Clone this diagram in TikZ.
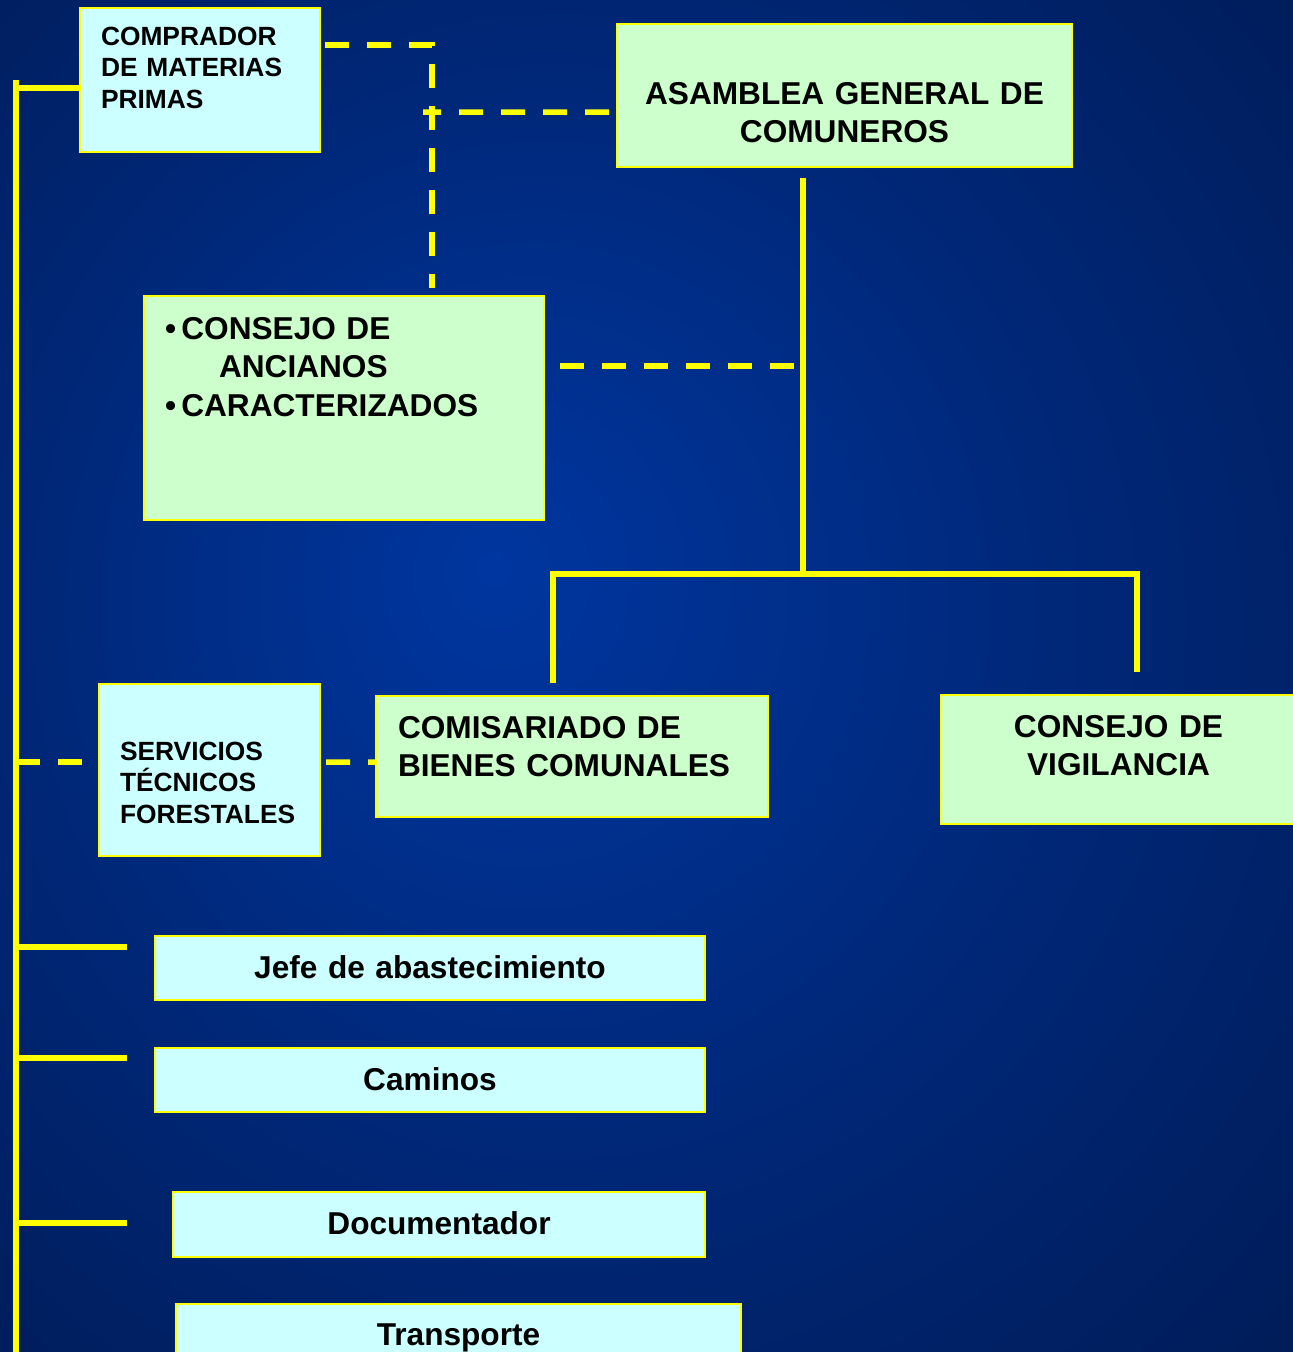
\documentclass[tikz,border=0pt]{standalone}
\usepackage{fontspec}
\setmainfont{Liberation Sans}
\usetikzlibrary{positioning}
\newlength{\pxu}\setlength{\pxu}{0.02cm}
\definecolor{bgA}{RGB}{0,54,160}
\definecolor{bgB}{RGB}{0,38,116}
\definecolor{bgC}{RGB}{0,20,66}
\definecolor{boxgreen}{RGB}{204,255,204}
\definecolor{boxcyan}{RGB}{204,255,255}
\definecolor{linkyellow}{RGB}{255,255,0}
\pgfdeclareradialshading{slidebg}{\pgfpoint{-6bp}{4bp}}{color(0bp)=(bgA); color(22bp)=(bgB); color(50bp)=(bgC)}
\tikzstyle{box}=[draw=linkyellow,line width=2\pxu,anchor=north west,inner ysep=0pt,outer sep=0pt,font=\bfseries\fontsize{18}{22}\selectfont]
\tikzstyle{greenbox}=[box,fill=boxgreen]
\tikzstyle{cyanbox}=[box,fill=boxcyan]
\tikzstyle{small}=[font=\bfseries\fontsize{15}{18.2}\selectfont]
\tikzstyle{solidlink}=[draw=linkyellow,line width=5.5\pxu]
\tikzstyle{dashlink}=[solidlink,dash pattern=on 24\pxu off 18\pxu]
\tikzset{boxdims/.style n args={4}{text width=#1\pxu,inner xsep=#2\pxu,text height=#3\pxu,text depth=#4\pxu}}
\newcommand{\newBox}[4]{\node[#3] (#1) at (#4) {#2};}
\newcommand{\newStub}[2]{\coordinate (#1) at (#2); \draw[solidlink] (#1) -- (#1 -| spineTop);}

\begin{document}
\begin{tikzpicture}[x=1\pxu,y=-1\pxu]
  \useasboundingbox (0,0) rectangle (1293,1352);
  \shade[shading=slidebg] (0,0) rectangle (1293,1352);

  % boxes
  \newBox{comprador}{COMPRADOR\\DE MATERIAS\\PRIMAS}{cyanbox,small,align=left,boxdims={198}{21}{37}{107}}{80,8}
  \newBox{asamblea}{ASAMBLEA GENERAL DE\\COMUNEROS}{greenbox,align=center,boxdims={435}{10}{80}{63}}{617,24}
  \newBox{ancianos}{•\,CONSEJO DE\\\hspace*{54\pxu}ANCIANOS\\•\,CARACTERIZADOS}{greenbox,align=left,boxdims={358}{21}{43}{181}}{144,296}
  \newBox{servicios}{SERVICIOS\\TÉCNICOS\\FORESTALES}{cyanbox,small,align=left,boxdims={179}{21}{76}{96}}{99,684}
  \newBox{comisariado}{COMISARIADO DE\\BIENES COMUNALES}{greenbox,align=left,boxdims={348}{22}{42}{79}}{376,696}
  \newBox{vigilancia}{CONSEJO DE\\VIGILANCIA}{greenbox,align=center,boxdims={335}{10}{42}{87}}{941,695}
  \newBox{jefe}{Jefe de abastecimiento}{cyanbox,align=center,boxdims={530}{10}{42}{22}}{155,936}
  \newBox{caminos}{Caminos}{cyanbox,align=center,boxdims={530}{10}{42}{22}}{155,1048}
  \newBox{documentador}{Documentador}{cyanbox,align=center,boxdims={512}{10}{42}{23}}{173,1192}
  \newBox{transporte}{Transporte}{cyanbox,align=center,boxdims={545}{10}{41}{24}}{176,1304}

  % left spine
  \coordinate (spineTop) at (16,80);
  \coordinate (spineEnd) at (16,1360);
  \draw[solidlink] (spineTop) -- (spineEnd);
  \draw[solidlink] ([yshift=-8\pxu]comprador.west) -- ++(-64,0);
  \newStub{jefeStub}{127,947}
  \newStub{caminosStub}{127,1058}
  \newStub{docStub}{127,1223}
  \coordinate (servLeft) at ([yshift=8\pxu]servicios.west);
  \draw[dashlink] (servLeft -| spineTop) -- (servLeft);
  \draw[dashlink] ([xshift=6\pxu,yshift=8\pxu]servicios.east) -- ([yshift=-5.5\pxu]comisariado.west);

  % top dashed links
  \coordinate (crossing) at (423,112);
  \draw[dashlink] ([xshift=5\pxu,yshift=35\pxu]comprador.east) -| ([xshift=88\pxu,yshift=8\pxu]ancianos.north);
  \draw[dashlink] ([xshift=-8\pxu,yshift=-16.5\pxu]asamblea.west) -- (crossing);

  % trunk and branches
  \coordinate (fork) at (803,574);
  \draw[solidlink] ([xshift=-41.5\pxu,yshift=-11\pxu]asamblea.south) -- (fork);
  \coordinate (ancDash) at ([xshift=16\pxu,yshift=42\pxu]ancianos.east);
  \draw[dashlink] (ancDash) -- (ancDash -| fork);
  \draw[solidlink] ([xshift=-19\pxu,yshift=13\pxu]comisariado.north) |- (fork) -| ([xshift=18.5\pxu,yshift=23\pxu]vigilancia.north);
\end{tikzpicture}
\end{document}
